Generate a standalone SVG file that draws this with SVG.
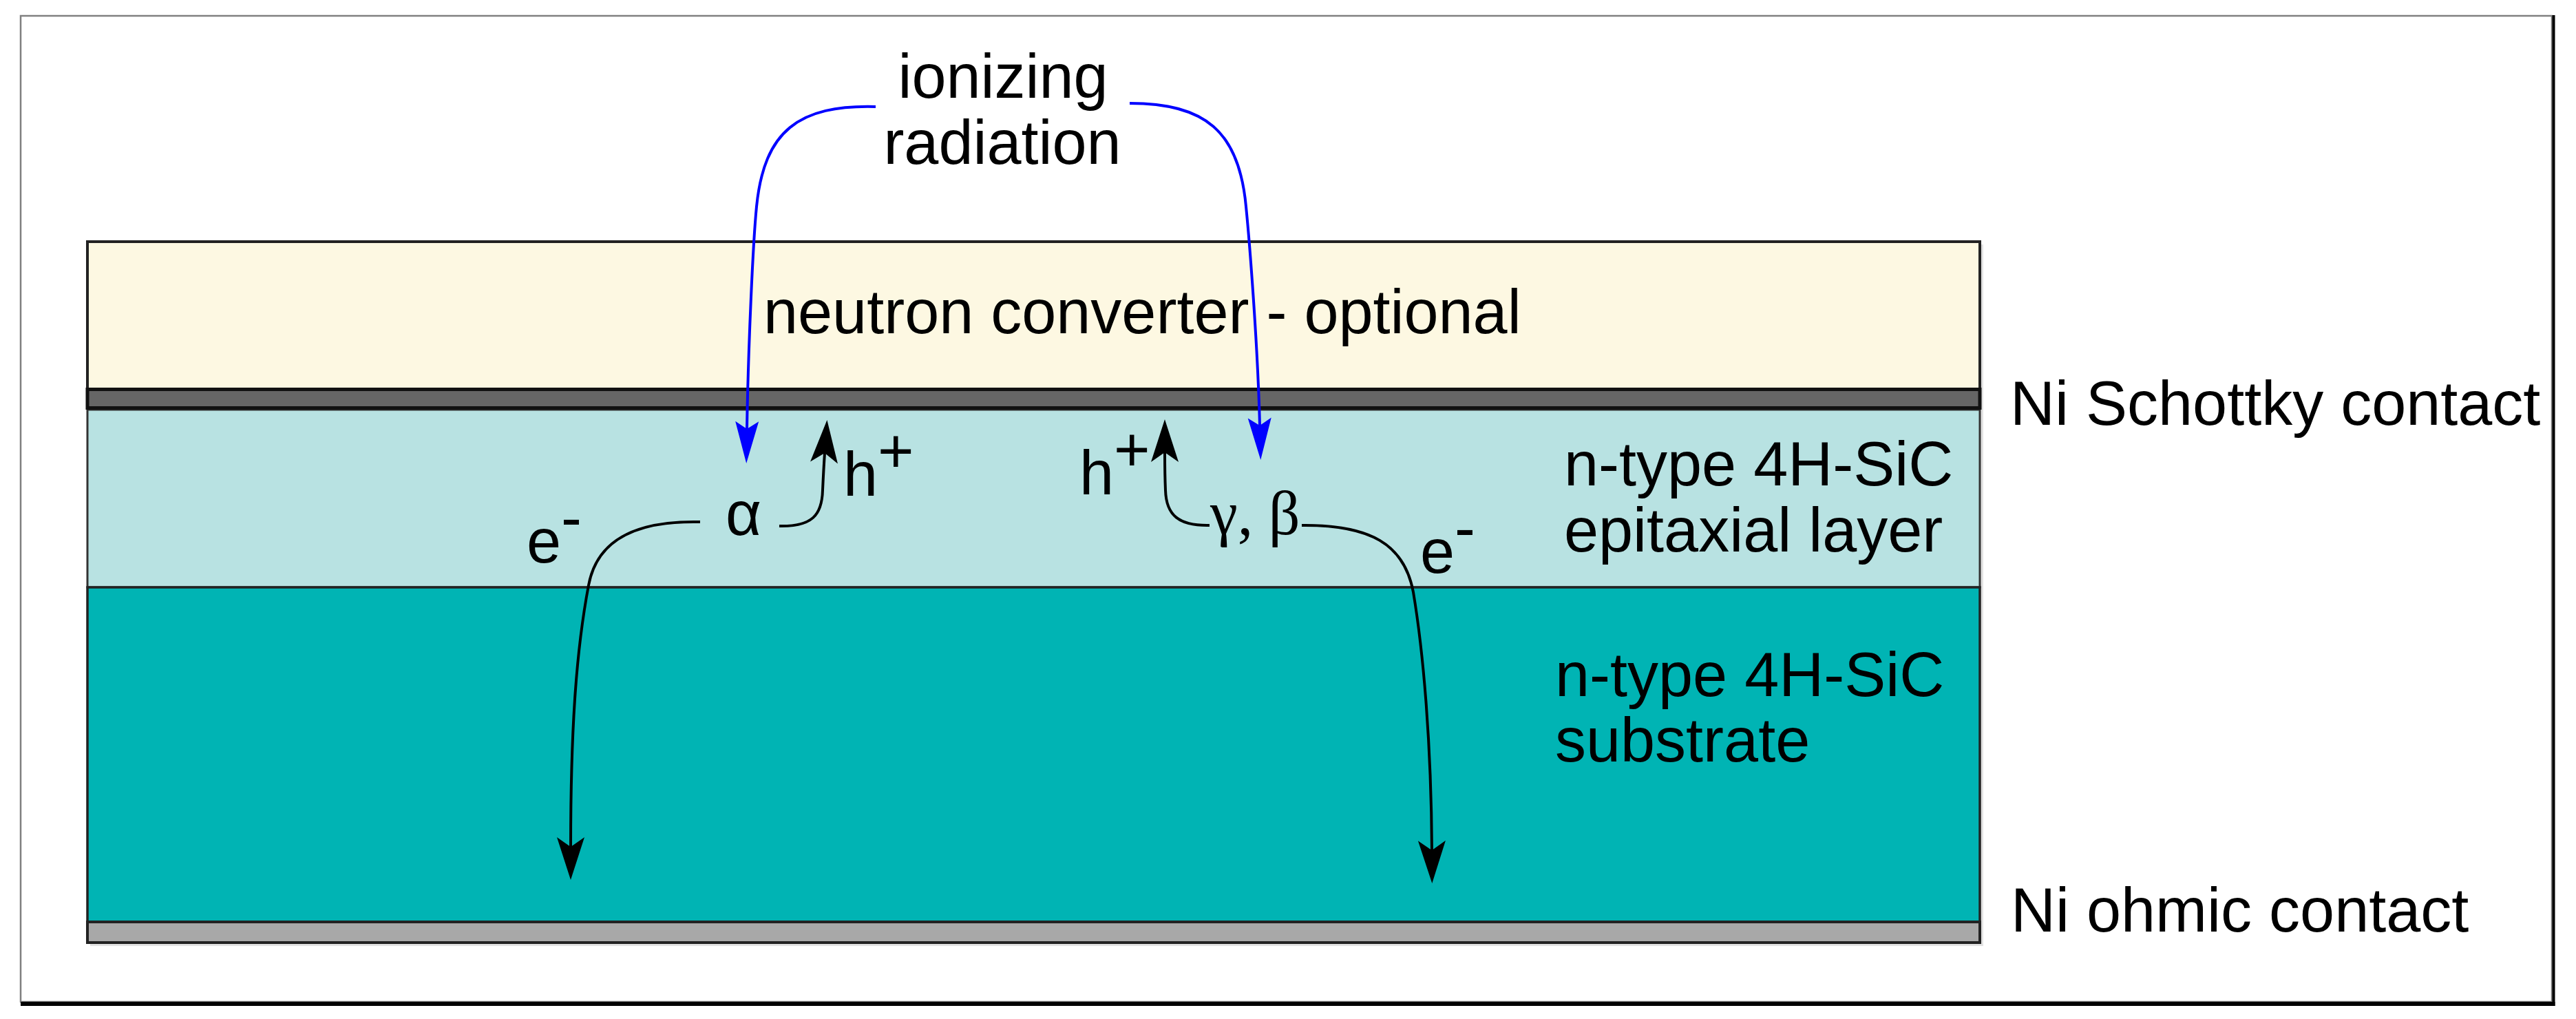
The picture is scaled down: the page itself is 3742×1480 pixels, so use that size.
<svg xmlns="http://www.w3.org/2000/svg" width="3742" height="1480" viewBox="0 0 3742 1480">
<style>
.t{font-family:"Liberation Sans",Arial,sans-serif;font-size:90px;fill:#000}
.g{font-family:"Liberation Serif","Times New Roman",serif;font-size:90px;fill:#000}
.k{fill:none;stroke:#000;stroke-width:4}
.b{fill:none;stroke:#0000ff;stroke-width:4}
</style>
<defs>
<marker id="ak" markerUnits="userSpaceOnUse" orient="auto" markerWidth="80" markerHeight="60" refX="14" refY="30" viewBox="0 0 80 60" overflow="visible">
<path d="M0,10 L62,30 L0,50 L14,30 Z" fill="#000"/>
</marker>
<marker id="ab" markerUnits="userSpaceOnUse" orient="auto" markerWidth="80" markerHeight="60" refX="11" refY="30" viewBox="0 0 80 60" overflow="visible">
<path d="M0,13 L61,30 L0,47 L11,30 Z" fill="#0000ff"/>
</marker>
</defs>
<rect x="0" y="0" width="3742" height="1480" fill="#fff"/>
<g id="frame">
<rect x="30" y="23" width="3677" height="1432" fill="#fff" stroke="#808080" stroke-width="2.5"/>
<line x1="3709.5" y1="22" x2="3709.5" y2="1461" stroke="#000" stroke-width="4"/>
<line x1="30" y1="1458" x2="3711.5" y2="1458" stroke="#000" stroke-width="6"/>
</g>
<g id="shadow">
<rect x="131" y="355" width="2750" height="1019" fill="#e2e2e2"/>
</g>
<g id="converter">
<rect x="127" y="351" width="2749" height="214" fill="#fdf8e2" stroke="#222" stroke-width="4"/>
<text class="t" x="1109" y="484">neutron converter - optional</text>
</g>
<g id="epi">
<rect x="127" y="595" width="2749" height="258" fill="#b8e2e2" stroke="#333" stroke-width="3"/>
<text class="t" x="2272" y="705">n-type 4H-SiC</text>
<text class="t" x="2272" y="801">epitaxial layer</text>
</g>
<g id="substrate">
<rect x="127" y="853" width="2749" height="486" fill="#00b4b4" stroke="#222" stroke-width="3.5"/>
<text class="t" x="2259" y="1011">n-type 4H-SiC</text>
<text class="t" x="2259" y="1106">substrate</text>
</g>
<g id="ohmic">
<rect x="127" y="1339" width="2749" height="30" fill="#a8a8a8" stroke="#222" stroke-width="4"/>
</g>
<g id="schottky">
<rect x="127" y="565.5" width="2749" height="27" fill="#666" stroke="#111" stroke-width="5"/>
</g>
<g id="labels">
<text class="t" x="1457" y="142" text-anchor="middle">ionizing</text>
<text class="t" x="1456" y="238" text-anchor="middle">radiation</text>
<text class="t" x="2920" y="617">Ni Schottky contact</text>
<text class="t" x="2921" y="1353">Ni ohmic contact</text>
<text class="t" x="1054" y="777">α</text>
<text class="g" x="1758" y="776">γ, β</text>
<text class="t" x="1225" y="720">h<tspan dy="-34">+</tspan></text>
<text class="t" x="1568" y="718">h<tspan dy="-34">+</tspan></text>
<text class="t" x="765" y="817">e<tspan dy="-34">-</tspan></text>
<text class="t" x="2063" y="832">e<tspan dy="-34">-</tspan></text>
</g>
<g id="connectors">
<path class="b" d="M1272,155 C1160,152 1110,190 1099,300 C1094,350 1087,500 1085,623" marker-end="url(#ab)"/>
<path class="b" d="M1641,150 C1750,150 1800,190 1810,300 C1815,350 1827,500 1830,618" marker-end="url(#ab)"/>
<path class="k" d="M1017,758 C930,756 868,780 855,850 C838,940 829,1050 829,1230" marker-end="url(#ak)"/>
<path class="k" d="M1132,764 C1180,765 1194,748 1195,712 C1196,690 1197,672 1198,658" marker-end="url(#ak)"/>
<path class="k" d="M1757,763 C1712,764 1694,748 1693,712 C1692,690 1692,672 1692,657" marker-end="url(#ak)"/>
<path class="k" d="M1891,763 C1990,762 2040,790 2053,860 C2068,950 2079,1080 2080,1235" marker-end="url(#ak)"/>
</g>
</svg>
